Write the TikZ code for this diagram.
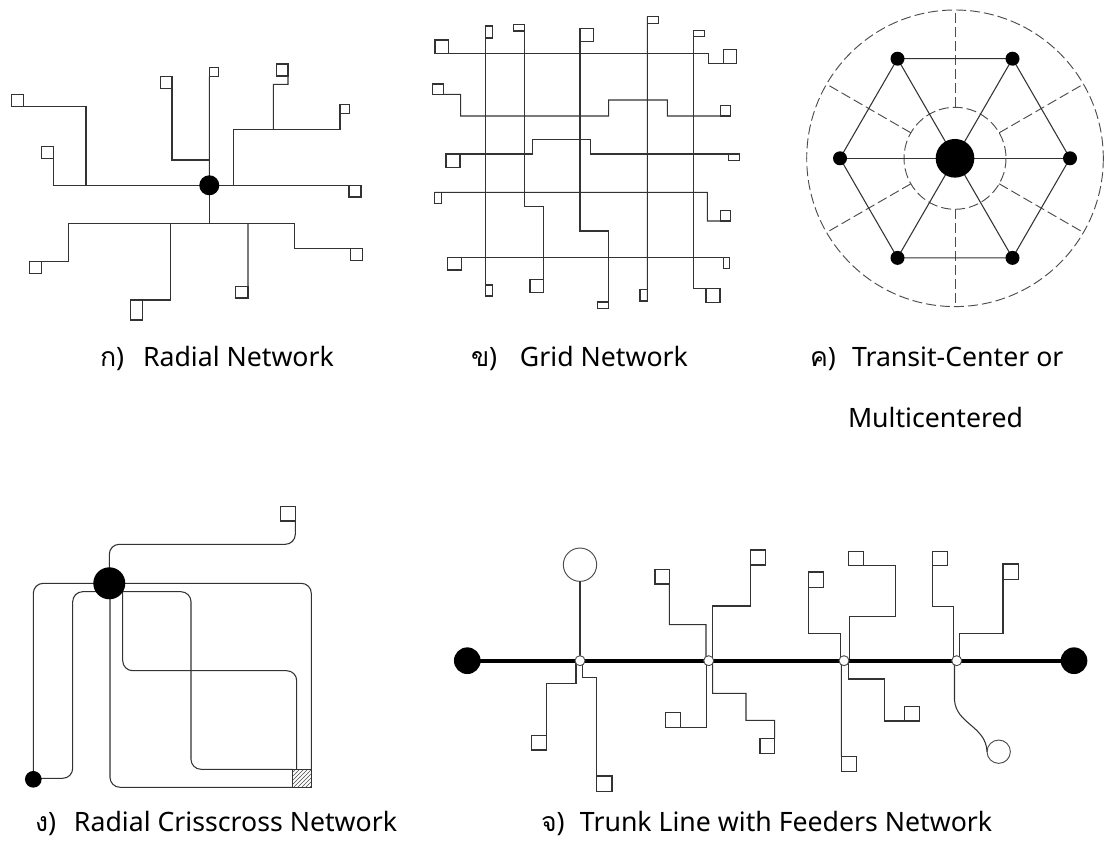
\documentclass[tikz,border=0pt]{standalone}
\usepackage{fontspec}
\setmainfont{Noto Sans}
\newfontfamily\thaifont[Script=Thai]{Loma}
\usetikzlibrary{patterns}
\tikzset{
  ln/.style={line width=0.8pt, draw=black!80},
  sqn/.style={draw=black!80, line width=0.8pt, inner sep=0pt, outer sep=0pt, rectangle},
  dot/.style={circle, fill=black, inner sep=0pt, outer sep=0pt, minimum size=#1},
  dot/.default=10pt,
  ring/.style={circle, draw=black!70, fill=white, line width=0.7pt, inner sep=0pt, outer sep=0pt, minimum size=#1},
  ring/.default=7.5pt,
  dsh/.style={line width=0.7pt, draw=black!70, dash pattern=on 7.5pt off 3pt},
  trunk/.style={line width=3pt, draw=black},
  lbl/.style={inner sep=0pt, outer sep=0pt, font=\fontsize{20}{24}\selectfont, anchor=base west},
}
\newcommand\sqb[5]{\node[sqn, minimum width={((#4)-(#2))*0.75pt}, minimum height={((#5)-(#3))*0.75pt}] (#1) at ({((#2)+(#4))/2},{((#3)+(#5))/2}) {};}
\newcommand\thp[2]{\makebox[#1][l]{\raisebox{0pt}[\height][0pt]{{\thaifont #2})}}}
\begin{document}
\begin{tikzpicture}[x=0.75pt,y=-0.75pt]
\useasboundingbox (0,0) rectangle (1106,841);

% ================= Panel A : Radial =================
\sqb{a1}{41.3}{146.7}{53.3}{158.3}
\sqb{a2}{11.7}{94.3}{23.3}{106.7}
\sqb{a3}{209.3}{67.7}{218.7}{76.7}
\sqb{a4}{160.3}{76.7}{172}{88.3}
\sqb{a5}{340}{104.3}{349.3}{113.3}
\sqb{a6}{276.7}{64}{288}{76}
\sqb{a7}{349}{185.3}{361}{197}
\sqb{a8}{29.7}{261.7}{41.7}{273.3}
\sqb{a9}{130.7}{300}{142.7}{320}
\sqb{a10}{235.7}{286.7}{248}{298}
\sqb{a11}{350.7}{248.7}{362.7}{260.7}
\coordinate (ac) at (209.3,185.3);
\draw[ln] (ac) -| (a1.south east);
\draw[ln] (86,185.3) |- (a2.south east);
\draw[ln] (ac) -- (a3.south west);
\draw[ln] (209.3,160) -| (a4.south east);
\draw[ln] (ac) -- (a7.north west);
\draw[ln] (233.3,185.3) |- (340,129.3) -- (a5.south west);
\draw[ln] (273.3,129.3) |- (288,84.3) -- (a6.south east);
\draw[ln] (ac) -- (209.3,223.3);
\draw[ln] (68.3,223.3) -- (294.7,223.3);
\draw[ln] (68.3,223.3) |- (a8.north east);
\draw[ln] (170.7,223.3) |- (a9.north east);
\draw[ln] (248,223.3) -- (a10.north east);
\draw[ln] (294.7,223.3) |- (a11.north west);
\node[dot=15pt] (A) at (ac) {};

% ================= Panel B : Grid =================
\sqb{b1}{435}{40}{448.3}{53.3}
\sqb{b2}{723.3}{49.3}{736.7}{63.3}
\sqb{b3}{432.3}{84}{443.3}{94.3}
\sqb{b4}{720.7}{105.3}{730.7}{116}
\sqb{b5}{446}{154}{460}{167.7}
\sqb{b6}{728.3}{154}{739.3}{160.3}
\sqb{b7}{434.3}{192.3}{441.7}{203.3}
\sqb{b8}{720.7}{210.7}{730.7}{221}
\sqb{b9}{447.3}{257.3}{461.7}{270}
\sqb{b10}{723.3}{257.3}{729.3}{268.3}
\sqb{b11}{485.3}{26}{492.3}{38}
\sqb{b12}{485.3}{285}{492.3}{296}
\sqb{b13}{513.3}{24.3}{524.7}{31}
\sqb{b14}{530}{279.3}{543.3}{292.7}
\sqb{b15}{580}{28.3}{593.3}{41.7}
\sqb{b16}{597.7}{302}{608.7}{308.7}
\sqb{b17}{647.3}{16.7}{658.3}{23.3}
\sqb{b18}{640}{289.3}{647.3}{301}
\sqb{b19}{693.3}{30.7}{704.3}{36.7}
\sqb{b20}{706}{288.7}{720}{302.7}
\draw[ln] (b1.south west) -| (708.7,63.3) -- (b2.south west);
\draw[ln] (b3.south east) -| (460.7,116) -| (608.7,100) -| (667.3,116) -- (b4.south west);
\draw[ln] (b5.north west) -| (532.7,139.3) -| (590.7,154) -- (b6.north west);
\draw[ln] (b7.north west) -| (707.3,221) -- (b8.south west);
\draw[ln] (b9.north west) -- (b10.north west);
\draw[ln] (b11.north west) -- (b12.south west);
\draw[ln] (b13.north east) -- (524.7,206.7) -| (b14.north east);
\draw[ln] (b15.north west) |- (608.7,231) -- (b16.north east);
\draw[ln] (b17.north west) -- (b18.south east);
\draw[ln] (b19.north west) |- (b20.north west);

% ================= Panel C : Transit-center =================
\coordinate (cc) at (955,158.3);
\draw[dsh] (cc) circle[radius=148.3];
\draw[dsh] (cc) circle[radius=51];
\foreach \a in {30,90,150,210,270,330}
  \draw[dsh, shift={(955,158.3)}] (\a:51) -- (\a:148.3);
\foreach \i/\a in {1/0,2/60,3/120,4/180,5/240,6/300}
  \coordinate (h\i) at ([shift={(955,158.3)}]\a:115);
\draw[ln] (h1) -- (h2) -- (h3) -- (h4) -- (h5) -- (h6) -- cycle;
\foreach \i in {1,...,6} \draw[ln] (cc) -- (h\i);
\node[dot=29pt] (C) at (cc) {};
\foreach \i in {1,...,6} \node[dot=10.5pt] (H\i) at (h\i) {};

% ================= Panel D : Radial crisscross =================
\coordinate (dc) at (109.3,583.3);
\sqb{d1}{280.7}{506.7}{295.3}{521}
\coordinate (sdc) at (33.3,779.3);
\begin{scope}[rounded corners=7.5pt]
\draw[ln] (dc) -- (109.3,544.3) -- (295.3,544.3) -- (d1.south east);
\draw[ln] (dc) -- (33.3,583.3) -- (sdc);
\draw[ln] (dc) -- (311.3,583.3) -- (311.3,787.3) -- (110,787.3) -- (110,583.3);
\draw[ln] (100,591.7) -- (72.7,591.7) -- (72.7,778.3) -- (33.3,778.3);
\draw[ln] (115,591.7) -- (191,591.7) -- (191,769.3) -- (292.7,769.3);
\draw[ln] (122.7,591.7) -- (122.7,670.7) -- (296.7,670.7) -- (296.7,769.3);
\end{scope}
\fill[white] (292.7,769.3) rectangle (311.3,787.3);
\fill[pattern=north east lines, pattern color=black!70] (292.7,769.3) rectangle (311.3,787.3);
\node[sqn, minimum width=13.95pt, minimum height=13.5pt] (D2) at (302,778.3) {};
\node[dot=24pt] (D) at (dc) {};
\node[dot=12.5pt] (Ds) at (sdc) {};

% ================= Panel E : Trunk line with feeders =================
\coordinate (s1) at (580,660.7);
\coordinate (s2) at (708.7,660.7);
\coordinate (s3) at (844,660.7);
\coordinate (s4) at (956.7,660.7);
% station 1
\node[ring=25pt] (e1) at (580,564.7) {};
\sqb{e2}{531.7}{735.3}{546.7}{750}
\sqb{e3}{596.7}{776}{612}{791.3}
\draw[ln] (s1) -- (e1);
\draw[ln] (576,660.7) -- (576,683.3) -| (e2.north east);
\draw[ln] (582.7,660.7) |- (596.7,677.3) -- (e3.north west);
% station 2
\sqb{e4}{655}{569.3}{669.3}{584}
\sqb{e5}{750.7}{550}{765.7}{565}
\sqb{e6}{665.3}{712.3}{680.7}{727.3}
\sqb{e7}{760}{738.3}{774.7}{753.3}
\draw[ln] (706,660.7) |- (669.3,624.7) -- (e4.south east);
\draw[ln] (712.7,660.7) |- (750.7,606) -- (e5.south west);
\draw[ln] (706.7,660.7) |- (e6.south east);
\draw[ln] (712.7,660.7) |- (746,693.3) |- (774.7,720.3) -- (e7.north east);
% station 3
\sqb{e8}{808.7}{572}{823.7}{587.3}
\sqb{e9}{848.7}{551.3}{863.3}{565.3}
\sqb{e10}{841.3}{756.7}{856.7}{771.3}
\sqb{e11}{904.3}{706.7}{919.3}{721}
\draw[ln] (840.7,660.7) |- (808.7,633.3) -- (e8.south west);
\draw[ln] (849.3,660.7) |- (895.3,616.7) |- (e9.south east);
\draw[ln] (841.3,660.7) -- (e10.north west);
\draw[ln] (848.7,660.7) |- (884.5,679) |- (e11.south west);
% station 4
\sqb{e12}{932.7}{551.3}{947.7}{565.7}
\sqb{e13}{1003}{564}{1018.3}{579.3}
\node[ring=17.5pt] (e14) at (998.7,751.7) {};
\draw[ln] (953.7,660.7) |- (932.7,606.7) -- (e12.south west);
\draw[ln] (959.7,660.7) |- (1003,633.3) -- (e13.south west);
\draw[ln] (954.5,660.7) -- (954.5,700) .. controls (956,724) and (986,726) .. (e14.west);
% trunk
\coordinate (tl) at (467.3,660.7);
\coordinate (tr) at (1074,660.7);
\draw[trunk] (tl) -- (tr);
\node[dot=20pt] (T1) at (tl) {};
\node[dot=20pt] (T2) at (tr) {};
\foreach \s in {s1,s2,s3,s4} \node[ring] at (\s) {};

% ================= Labels =================
\node[lbl] (la) at (100,367) {\thp{32.25pt}{ก}Radial Network};
\node[lbl] (lb) at (471,367) {\thp{36.75pt}{ข}Grid Network};
\node[lbl] (lc) at (810,367) {\thp{31.5pt}{ค}Transit-Center or};
\node[lbl] (lc2) at (848,427) {Multicentered};
\node[lbl] (ld) at (35,831) {\thp{29.25pt}{ง}Radial Crisscross Network};
\node[lbl] (le) at (541,831) {\thp{29.25pt}{จ}Trunk Line with Feeders Network};
\end{tikzpicture}
\end{document}
